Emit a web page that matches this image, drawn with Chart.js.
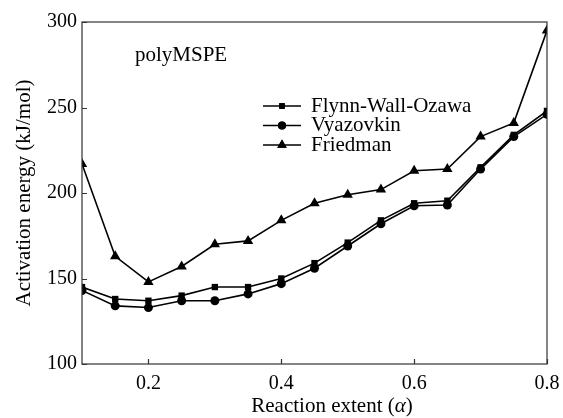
<!DOCTYPE html>
<html>
<head>
<meta charset="utf-8">
<script src="https://cdn.jsdelivr.net/npm/chart.js@4"></script>
<style>
  html, body { margin: 0; padding: 0; background: #fff; }
  #wrap { width: 563px; height: 418px; }
</style>
</head>
<body>
<div id="wrap"><canvas id="eaChart" width="563" height="418"></canvas></div>
<script>
const alpha = [0.1, 0.15, 0.2, 0.25, 0.3, 0.35, 0.4, 0.45, 0.5, 0.55, 0.6, 0.65, 0.7, 0.75, 0.8];
const fwo = [145, 138, 137, 140, 145, 145, 150, 159, 171, 184, 194, 195.5, 215, 234, 248];
const vyazovkin = [143, 134, 133, 137, 137, 141, 147, 156, 169, 182, 192.5, 193, 214, 233, 246];
const friedman = [217, 163, 148, 157, 170, 172, 184, 194, 199, 202, 213, 214, 233, 241, 295];
const xTicks = [0.2, 0.4, 0.6, 0.8];
const yTicks = [100, 150, 200, 250, 300];
const seriesNames = ["Flynn-Wall-Ozawa", "Vyazovkin", "Friedman"];

const serif = "'Liberation Serif', 'DejaVu Serif', serif";

function toPoints(ys) {
    return alpha.map((a, i) => ({ x: a, y: ys[i] }));
}

function line(label, ys, style, radius) {
    return {
        label: label,
        data: toPoints(ys),
        borderColor: "#000",
        backgroundColor: "#000",
        borderWidth: 1.6,
        pointStyle: style,
        pointRadius: radius,
        pointBorderWidth: 0,
        tension: 0,
        clip: 0
    };
}

// box around the plot, inward ticks, legend, annotation and x title
const frame = {
    id: "frame",
    afterDraw(chart) {
        const ctx = chart.ctx;
        const a = chart.chartArea;
        const xs = chart.scales.x, ys = chart.scales.y;
        ctx.save();
        ctx.strokeStyle = "#333";
        ctx.lineWidth = 1.2;
        ctx.strokeRect(a.left, a.top, a.right - a.left, a.bottom - a.top);
        ctx.beginPath();
        xTicks.forEach(v => {
            const px = Math.round(xs.getPixelForValue(v)) + 0.5;
            ctx.moveTo(px, a.bottom);
            ctx.lineTo(px, a.bottom - 5);
        });
        yTicks.forEach(v => {
            const py = Math.round(ys.getPixelForValue(v)) + 0.5;
            ctx.moveTo(a.left, py);
            ctx.lineTo(a.left + 5, py);
        });
        ctx.stroke();

        ctx.fillStyle = "#000";
        ctx.textBaseline = "middle";
        ctx.font = "21px " + serif;
        ctx.fillText("polyMSPE", 135, 55);

        // legend
        chart.data.datasets.forEach((ds, i) => {
            const y = 106 + i * 19.5;
            ctx.strokeStyle = "#000";
            ctx.lineWidth = 1.6;
            ctx.beginPath();
            ctx.moveTo(263, y);
            ctx.lineTo(301, y);
            ctx.stroke();
            Chart.helpers.drawPoint(ctx, {
                pointStyle: ds.pointStyle,
                radius: ds.pointRadius - 0.5,
                borderWidth: 0
            }, 282, y);
            ctx.fill();
            ctx.fillStyle = "#000";
            ctx.fillText(ds.label, 311, y);
        });

        // x axis title with italic alpha
        ctx.font = "21px " + serif;
        const t1 = "Reaction extent (";
        const t3 = ")";
        const w1 = ctx.measureText(t1).width;
        const w3 = ctx.measureText(t3).width;
        ctx.font = "italic 21px " + serif;
        const w2 = ctx.measureText("α").width;
        let x0 = 332 - (w1 + w2 + w3) / 2;
        const ty = 406;
        ctx.font = "21px " + serif;
        ctx.fillText(t1, x0, ty);
        ctx.font = "italic 21px " + serif;
        ctx.fillText("α", x0 + w1, ty);
        ctx.font = "21px " + serif;
        ctx.fillText(t3, x0 + w1 + w2, ty);
        ctx.restore();
    }
};

new Chart(document.getElementById("eaChart").getContext("2d"), {
    type: "line",
    data: {
        datasets: [
            line(seriesNames[0], fwo, "rect", 4.5),
            line(seriesNames[1], vyazovkin, "circle", 4.5),
            line(seriesNames[2], friedman, "triangle", 6)
        ]
    },
    options: {
        responsive: false,
        animation: false,
        layout: { padding: { top: 22, right: 16, left: 12, bottom: 0 } },
        plugins: {
            legend: { display: false },
            tooltip: { enabled: false }
        },
        scales: {
            x: {
                type: "linear",
                min: 0.1,
                max: 0.8,
                afterBuildTicks: s => { s.ticks = xTicks.map(v => ({ value: v })); },
                afterFit: s => { s.height = 54; s.paddingRight = 0; },
                grid: { display: false, drawTicks: false },
                border: { display: false },
                ticks: {
                    color: "#000",
                    padding: 8,
                    font: { family: serif, size: 20 },
                    callback: v => v.toFixed(1)
                }
            },
            y: {
                min: 100,
                max: 300,
                afterBuildTicks: s => { s.ticks = yTicks.map(v => ({ value: v })); },
                afterFit: s => { s.width = 70; },
                grid: { display: false, drawTicks: false },
                border: { display: false },
                title: {
                    display: true,
                    text: "Activation energy (kJ/mol)",
                    color: "#000",
                    font: { family: serif, size: 21 },
                    padding: 0
                },
                ticks: {
                    color: "#000",
                    padding: 5,
                    font: { family: serif, size: 20 }
                }
            }
        }
    },
    plugins: [frame]
});
</script>
</body>
</html>
